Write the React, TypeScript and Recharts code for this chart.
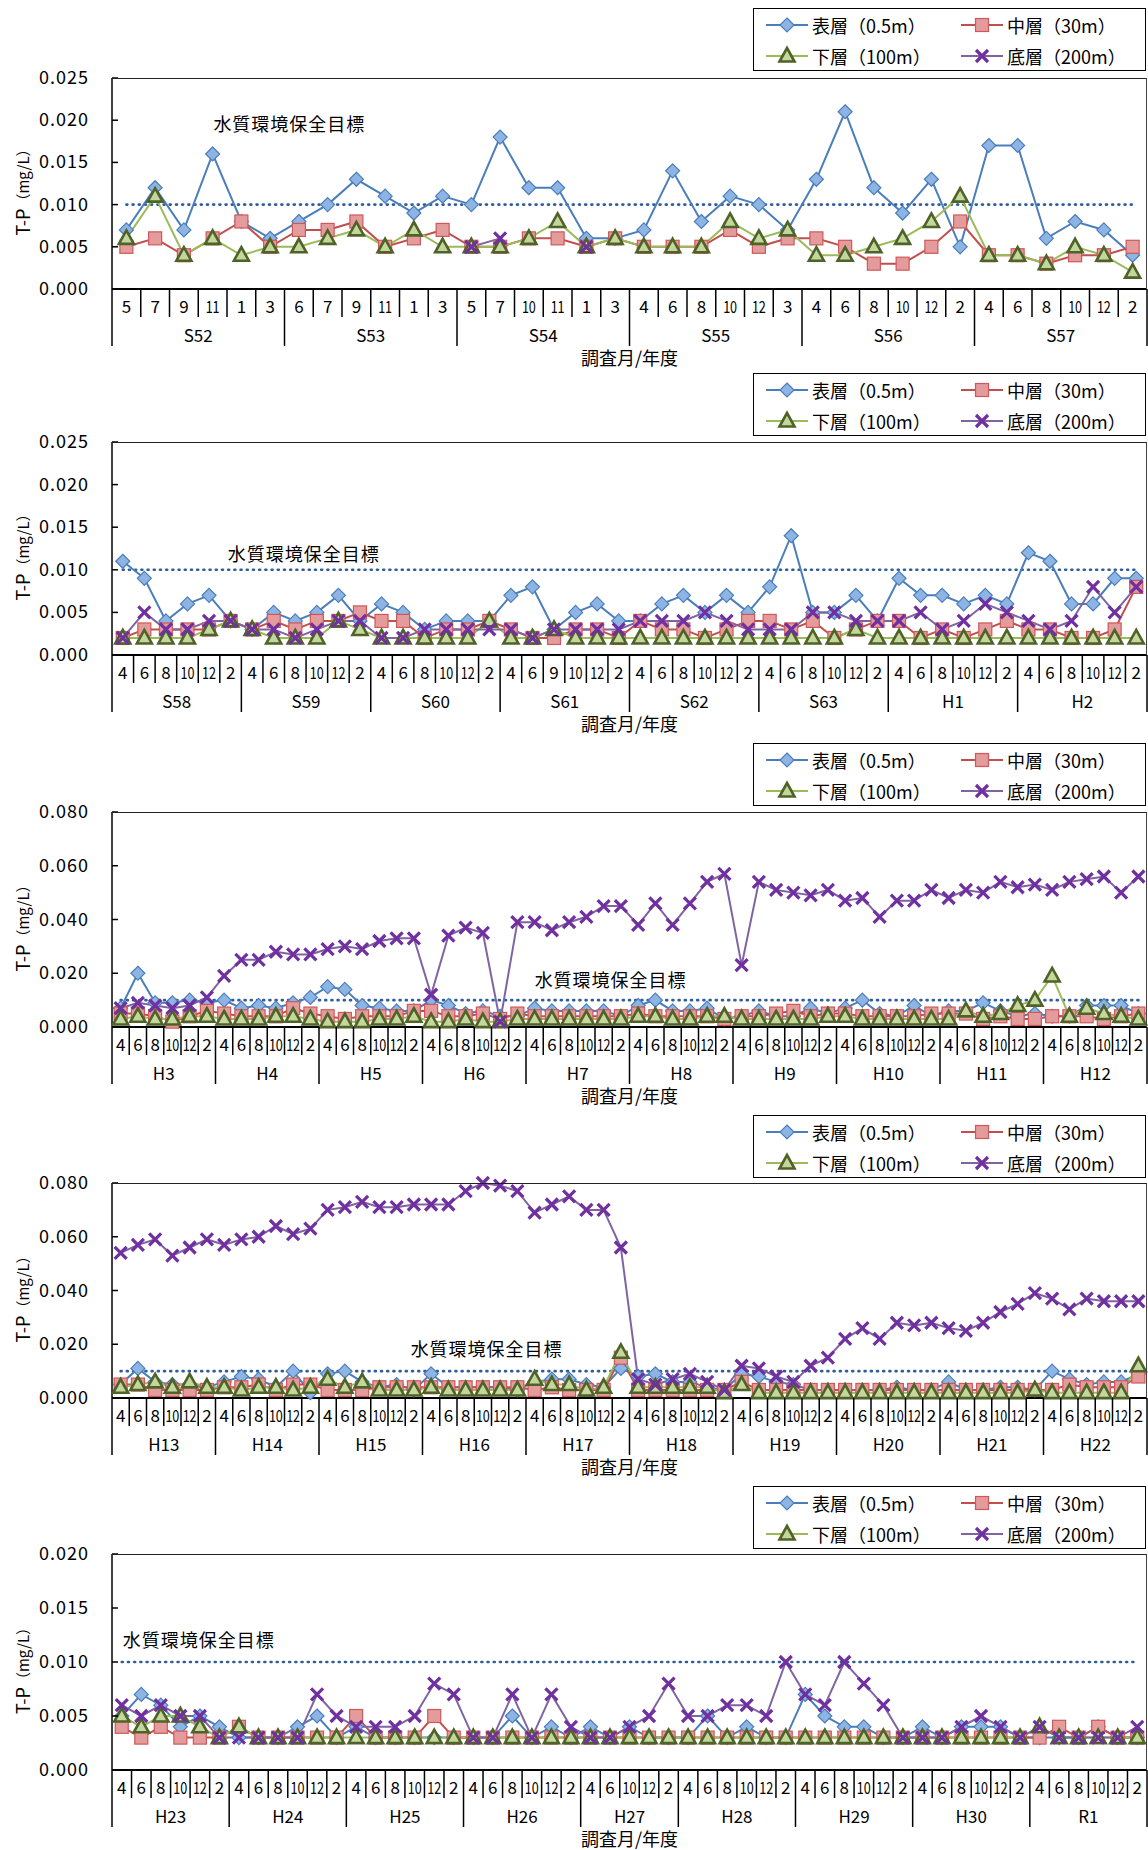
import { LineChart, Line, XAxis, YAxis, ReferenceLine } from "recharts";

const FONT = '"Noto Sans CJK JP", "Noto Sans", sans-serif';
const GOAL = 0.01;
const STD = [4, 6, 8, 10, 12, 2];

// S52 - S57
const p1Years = ["S52", "S53", "S54", "S55", "S56", "S57"];
const p1Months = [[5, 7, 9, 11, 1, 3], [6, 7, 9, 11, 1, 3], [5, 7, 10, 11, 1, 3], [4, 6, 8, 10, 12, 3], STD, STD];
const p1Surface = [0.007, 0.012, 0.007, 0.016, 0.008, 0.006, 0.008, 0.010, 0.013, 0.011, 0.009, 0.011, 0.010, 0.018, 0.012, 0.012, 0.006, 0.006, 0.007, 0.014, 0.008, 0.011, 0.010, 0.007, 0.013, 0.021, 0.012, 0.009, 0.013, 0.005, 0.017, 0.017, 0.006, 0.008, 0.007, 0.004];
const p1Middle = [0.005, 0.006, 0.004, 0.006, 0.008, 0.005, 0.007, 0.007, 0.008, 0.005, 0.006, 0.007, 0.005, 0.005, 0.006, 0.006, 0.005, 0.006, 0.005, 0.005, 0.005, 0.007, 0.005, 0.006, 0.006, 0.005, 0.003, 0.003, 0.005, 0.008, 0.004, 0.004, 0.003, 0.004, 0.004, 0.005];
const p1Lower = [0.006, 0.011, 0.004, 0.006, 0.004, 0.005, 0.005, 0.006, 0.007, 0.005, 0.007, 0.005, 0.005, 0.005, 0.006, 0.008, 0.005, 0.006, 0.005, 0.005, 0.005, 0.008, 0.006, 0.007, 0.004, 0.004, 0.005, 0.006, 0.008, 0.011, 0.004, 0.004, 0.003, 0.005, 0.004, 0.002];
const p1Bottom = [null, null, null, null, null, null, null, null, null, null, null, null, 0.005, 0.006, null, null, 0.005, null, null, null, null, null, null, null, null, null, null, null, null, null, null, null, null, null, null, null];
const p1Ticks = [0, 0.005, 0.01, 0.015, 0.02, 0.025];

// S58 - H2
const p2Years = ["S58", "S59", "S60", "S61", "S62", "S63", "H1", "H2"];
const p2Months = [STD, STD, STD, [4, 6, 9, 10, 12, 2], STD, STD, STD, STD];
const p2Surface = [0.011, 0.009, 0.004, 0.006, 0.007, 0.004, 0.003, 0.005, 0.004, 0.005, 0.007, 0.004, 0.006, 0.005, 0.003, 0.004, 0.004, 0.004, 0.007, 0.008, 0.003, 0.005, 0.006, 0.004, 0.004, 0.006, 0.007, 0.005, 0.007, 0.005, 0.008, 0.014, 0.005, 0.005, 0.007, 0.004, 0.009, 0.007, 0.007, 0.006, 0.007, 0.006, 0.012, 0.011, 0.006, 0.006, 0.009, 0.009];
const p2Middle = [0.002, 0.003, 0.003, 0.003, 0.003, 0.004, 0.003, 0.004, 0.003, 0.004, 0.004, 0.005, 0.004, 0.004, 0.002, 0.003, 0.003, 0.004, 0.003, 0.002, 0.002, 0.003, 0.003, 0.002, 0.004, 0.003, 0.003, 0.002, 0.003, 0.004, 0.004, 0.003, 0.004, 0.002, 0.003, 0.004, 0.004, 0.002, 0.003, 0.002, 0.003, 0.004, 0.003, 0.003, 0.002, 0.002, 0.003, 0.008];
const p2Lower = [0.002, 0.002, 0.002, 0.002, 0.003, 0.004, 0.003, 0.002, 0.002, 0.002, 0.004, 0.003, 0.002, 0.002, 0.002, 0.002, 0.002, 0.004, 0.002, 0.002, 0.003, 0.002, 0.002, 0.002, 0.002, 0.002, 0.002, 0.002, 0.002, 0.002, 0.002, 0.002, 0.002, 0.002, 0.003, 0.002, 0.002, 0.002, 0.002, 0.002, 0.002, 0.002, 0.002, 0.002, 0.002, 0.002, 0.002, 0.002];
const p2Bottom = [0.002, 0.005, 0.003, 0.003, 0.004, 0.004, 0.003, 0.003, 0.002, 0.003, 0.004, 0.004, 0.002, 0.002, 0.003, 0.003, 0.003, 0.003, 0.003, 0.002, 0.003, 0.003, 0.003, 0.003, 0.004, 0.004, 0.004, 0.005, 0.004, 0.003, 0.003, 0.003, 0.005, 0.005, 0.004, 0.004, 0.004, 0.005, 0.003, 0.004, 0.006, 0.005, 0.004, 0.003, 0.004, 0.008, 0.005, 0.008];
const p2Ticks = [0, 0.005, 0.01, 0.015, 0.02, 0.025];

// H3 - H12
const p3Years = ["H3", "H4", "H5", "H6", "H7", "H8", "H9", "H10", "H11", "H12"];
const p3Months = [STD, STD, STD, STD, STD, STD, STD, STD, STD, STD];
const p3Surface = [0.007, 0.020, 0.009, 0.009, 0.010, 0.009, 0.010, 0.007, 0.008, 0.007, 0.009, 0.011, 0.015, 0.014, 0.008, 0.007, 0.006, 0.006, 0.010, 0.008, 0.005, 0.006, 0.004, 0.004, 0.007, 0.006, 0.006, 0.006, 0.006, 0.004, 0.008, 0.010, 0.006, 0.006, 0.007, 0.003, 0.004, 0.006, 0.004, 0.004, 0.007, 0.005, 0.007, 0.010, 0.005, 0.004, 0.008, 0.004, 0.006, 0.006, 0.009, 0.006, 0.004, 0.005, 0.004, 0.004, 0.008, 0.008, 0.008, 0.005];
const p3Middle = [0.005, 0.005, 0.004, 0.002, 0.004, 0.006, 0.005, 0.004, 0.004, 0.004, 0.007, 0.005, 0.004, 0.003, 0.004, 0.004, 0.004, 0.006, 0.006, 0.004, 0.004, 0.005, 0.003, 0.005, 0.004, 0.004, 0.004, 0.004, 0.004, 0.004, 0.005, 0.004, 0.004, 0.004, 0.004, 0.003, 0.004, 0.004, 0.005, 0.006, 0.004, 0.005, 0.005, 0.004, 0.004, 0.004, 0.004, 0.005, 0.005, 0.005, 0.003, 0.004, 0.003, 0.003, 0.004, 0.004, 0.004, 0.003, 0.004, 0.005];
const p3Lower = [0.003, 0.004, 0.003, 0.003, 0.004, 0.004, 0.003, 0.003, 0.003, 0.004, 0.004, 0.003, 0.002, 0.002, 0.002, 0.003, 0.003, 0.004, 0.002, 0.002, 0.003, 0.002, 0.002, 0.003, 0.003, 0.003, 0.003, 0.003, 0.003, 0.003, 0.004, 0.004, 0.003, 0.003, 0.004, 0.004, 0.003, 0.003, 0.003, 0.003, 0.003, 0.004, 0.004, 0.003, 0.003, 0.003, 0.003, 0.003, 0.003, 0.006, 0.004, 0.005, 0.008, 0.010, 0.019, 0.004, 0.007, 0.005, 0.004, 0.003];
const p3Bottom = [0.007, 0.009, 0.008, 0.007, 0.008, 0.011, 0.019, 0.025, 0.025, 0.028, 0.027, 0.027, 0.029, 0.030, 0.029, 0.032, 0.033, 0.033, 0.012, 0.034, 0.037, 0.035, 0.002, 0.039, 0.039, 0.036, 0.039, 0.041, 0.045, 0.045, 0.038, 0.046, 0.038, 0.046, 0.054, 0.057, 0.023, 0.054, 0.051, 0.050, 0.049, 0.051, 0.047, 0.048, 0.041, 0.047, 0.047, 0.051, 0.048, 0.051, 0.050, 0.054, 0.052, 0.053, 0.051, 0.054, 0.055, 0.056, 0.050, 0.056];
const p3Ticks = [0, 0.02, 0.04, 0.06, 0.08];

// H13 - H22
const p4Years = ["H13", "H14", "H15", "H16", "H17", "H18", "H19", "H20", "H21", "H22"];
const p4Months = [STD, STD, STD, STD, STD, STD, STD, STD, STD, STD];
const p4Surface = [0.005, 0.011, 0.006, 0.005, 0.005, 0.004, 0.006, 0.008, 0.007, 0.004, 0.010, 0.002, 0.009, 0.010, 0.006, 0.004, 0.005, 0.003, 0.009, 0.004, 0.004, 0.004, 0.004, 0.003, 0.006, 0.007, 0.007, 0.005, 0.004, 0.011, 0.008, 0.009, 0.006, 0.006, 0.004, 0.003, 0.009, 0.008, 0.006, 0.005, 0.003, 0.003, 0.003, 0.003, 0.003, 0.004, 0.003, 0.003, 0.006, 0.003, 0.003, 0.004, 0.004, 0.003, 0.010, 0.007, 0.005, 0.006, 0.006, 0.009];
const p4Middle = [0.005, 0.005, 0.003, 0.003, 0.003, 0.003, 0.004, 0.004, 0.005, 0.003, 0.005, 0.005, 0.003, 0.003, 0.003, 0.004, 0.004, 0.004, 0.004, 0.004, 0.004, 0.004, 0.004, 0.004, 0.003, 0.004, 0.003, 0.003, 0.003, 0.015, 0.003, 0.003, 0.003, 0.003, 0.003, 0.003, 0.006, 0.003, 0.003, 0.003, 0.003, 0.003, 0.003, 0.003, 0.003, 0.003, 0.003, 0.003, 0.003, 0.003, 0.003, 0.003, 0.003, 0.003, 0.003, 0.005, 0.004, 0.004, 0.004, 0.008];
const p4Lower = [0.004, 0.005, 0.006, 0.004, 0.006, 0.004, 0.004, 0.003, 0.004, 0.004, 0.003, 0.004, 0.007, 0.004, 0.006, 0.003, 0.003, 0.003, 0.004, 0.003, 0.003, 0.003, 0.003, 0.003, 0.007, 0.005, 0.005, 0.003, 0.004, 0.017, 0.004, 0.004, 0.004, 0.004, 0.004, 0.002, 0.005, 0.002, 0.002, 0.002, 0.002, 0.002, 0.002, 0.002, 0.002, 0.002, 0.002, 0.002, 0.002, 0.002, 0.002, 0.002, 0.002, 0.003, 0.002, 0.002, 0.002, 0.002, 0.002, 0.012];
const p4Bottom = [0.054, 0.057, 0.059, 0.053, 0.056, 0.059, 0.057, 0.059, 0.060, 0.064, 0.061, 0.063, 0.070, 0.071, 0.073, 0.071, 0.071, 0.072, 0.072, 0.072, 0.077, 0.080, 0.079, 0.077, 0.069, 0.072, 0.075, 0.070, 0.070, 0.056, 0.007, 0.005, 0.007, 0.009, 0.006, 0.003, 0.012, 0.011, 0.008, 0.006, 0.012, 0.015, 0.022, 0.026, 0.022, 0.028, 0.027, 0.028, 0.026, 0.025, 0.028, 0.032, 0.035, 0.039, 0.037, 0.033, 0.037, 0.036, 0.036, 0.036];
const p4Ticks = [0, 0.02, 0.04, 0.06, 0.08];

// H23 - R1
const p5Years = ["H23", "H24", "H25", "H26", "H27", "H28", "H29", "H30", "R1"];
const p5Months = [STD, STD, STD, STD, [4, 6, 10, 12, 2], STD, STD, STD, STD];
const p5Surface = [0.005, 0.007, 0.006, 0.004, 0.005, 0.004, 0.003, 0.003, 0.003, 0.004, 0.005, 0.003, 0.004, 0.003, 0.003, 0.003, 0.003, 0.003, 0.003, 0.003, 0.005, 0.003, 0.004, 0.003, 0.004, 0.003, 0.004, 0.003, 0.003, 0.003, 0.005, 0.003, 0.004, 0.003, 0.003, 0.007, 0.005, 0.004, 0.004, 0.003, 0.003, 0.004, 0.003, 0.004, 0.004, 0.004, 0.003, 0.003, 0.003, 0.003, 0.004, 0.003, 0.003];
const p5Middle = [0.004, 0.003, 0.004, 0.003, 0.003, 0.003, 0.004, 0.003, 0.003, 0.003, 0.003, 0.003, 0.005, 0.003, 0.003, 0.003, 0.005, 0.003, 0.003, 0.003, 0.003, 0.003, 0.003, 0.003, 0.003, 0.003, 0.003, 0.003, 0.003, 0.003, 0.003, 0.003, 0.003, 0.003, 0.003, 0.003, 0.003, 0.003, 0.003, 0.003, 0.003, 0.003, 0.003, 0.003, 0.003, 0.003, 0.003, 0.003, 0.004, 0.003, 0.004, 0.003, 0.003, 0.003];
const p5Lower = [0.005, 0.004, 0.005, 0.005, 0.004, 0.003, 0.004, 0.003, 0.003, 0.003, 0.003, 0.003, 0.003, 0.003, 0.003, 0.003, 0.003, 0.003, 0.003, 0.003, 0.003, 0.003, 0.003, 0.003, 0.003, 0.003, 0.003, 0.003, 0.003, 0.003, 0.003, 0.003, 0.003, 0.003, 0.003, 0.003, 0.003, 0.003, 0.003, 0.003, 0.003, 0.003, 0.003, 0.003, 0.003, 0.003, 0.003, 0.004, 0.003, 0.003, 0.003, 0.003, 0.003, 0.003, 0.003, 0.003, 0.003, 0.003, 0.003];
const p5Bottom = [0.006, 0.005, 0.006, 0.005, 0.005, 0.003, 0.003, 0.003, 0.003, 0.003, 0.007, 0.005, 0.004, 0.004, 0.004, 0.005, 0.008, 0.007, 0.003, 0.003, 0.007, 0.003, 0.007, 0.004, 0.003, 0.003, 0.004, 0.005, 0.008, 0.005, 0.005, 0.006, 0.006, 0.005, 0.010, 0.007, 0.006, 0.010, 0.008, 0.006, 0.003, 0.003, 0.003, 0.004, 0.005, 0.004, 0.003, 0.004, 0.003, 0.003, 0.003, 0.003, 0.004];
const p5Ticks = [0, 0.005, 0.01, 0.015, 0.02];

const SERIES = [
  { key: "surface", name: "表層（0.5m）", color: "#4A7EBB", marker: "diamond" },
  { key: "middle", name: "中層（30m）", color: "#C0504D", marker: "square" },
  { key: "lower", name: "下層（100m）", color: "#9BBB59", marker: "triangle" },
  { key: "bottom", name: "底層（200m）", color: "#8064A2", marker: "cross" },
];

const PLOT_LEFT = 112;
const PLOT_W = 1035;
const TOP_GAP = 70;
const AXIS_H = 85;

function marker(kind: string, cx: number, cy: number, k: string) {
  if (kind === "diamond")
    return <path key={k} d={`M${cx},${cy - 7}L${cx + 7},${cy}L${cx},${cy + 7}L${cx - 7},${cy}Z`} fill="#8DB4E2" stroke="#4A7EBB" strokeWidth={1.2} />;
  if (kind === "square")
    return <rect key={k} x={cx - 6.5} y={cy - 6.5} width={13} height={13} fill="#E39C9B" stroke="#D0585A" strokeWidth={1.2} />;
  if (kind === "triangle")
    return <path key={k} d={`M${cx},${cy - 8}L${cx + 7.5},${cy + 5.5}L${cx - 7.5},${cy + 5.5}Z`} fill="#C3D69B" stroke="#4F6228" strokeWidth={2.6} />;
  return <path key={k} d={`M${cx - 6},${cy - 6}L${cx + 6},${cy + 6}M${cx + 6},${cy - 6}L${cx - 6},${cy + 6}`} stroke="#7030A0" strokeWidth={3.2} />;
}

const dotFor = (kind: string) => (p: any) => {
  if (p.cx == null || p.cy == null || p.value == null) return <g key={`n${kind}${p.index}`} />;
  return marker(kind, p.cx, p.cy, `${kind}${p.index}`);
};

function buildRows(years: string[], months: number[][], s: any[], m: any[], l: any[], b: any[]) {
  const rows: any[] = [];
  let i = 0;
  years.forEach((y, yi) => {
    months[yi].forEach((mo, j) => {
      rows.push({ key: `${y}-${j}`, year: y, month: mo, first: j === 0, groupLen: months[yi].length, surface: s[i], middle: m[i], lower: l[i], bottom: b[i] });
      i++;
    });
  });
  return rows;
}

function makeXTick(rows: any[], axisY: number) {
  const bw = PLOT_W / rows.length;
  return (props: any) => {
    const { x, index } = props;
    const r = rows[index];
    if (!r) return <g />;
    const left = x - bw / 2;
    const label = String(r.month);
    const narrow = label.length > 1 ? { textLength: 14, lengthAdjust: "spacingAndGlyphs" } : {};
    return (
      <g>
        <line x1={left} y1={axisY} x2={left} y2={axisY + (r.first ? 57 : 28)} stroke="#000" strokeWidth={1.5} />
        {index === rows.length - 1 && (
          <line x1={x + bw / 2} y1={axisY} x2={x + bw / 2} y2={axisY + 57} stroke="#000" strokeWidth={1.5} />
        )}
        <text x={x} y={axisY + 24} textAnchor="middle" fontSize={17} fill="#000" {...narrow}>
          {label}
        </text>
        {r.first && (
          <text x={left + (r.groupLen * bw) / 2} y={axisY + 53} textAnchor="middle" fontSize={17} fill="#000">
            {r.year}
          </text>
        )}
      </g>
    );
  };
}

const YTick = (props: any) => {
  const { y, payload } = props;
  return (
    <g>
      <line x1={PLOT_LEFT} x2={PLOT_LEFT + 6} y1={y} y2={y} stroke="#000" strokeWidth={1.5} />
      <text x={88} y={y + 6} textAnchor="end" fontSize={18} fill="#000" textLength={49} lengthAdjust="spacing">
        {Number(payload.value).toFixed(3)}
      </text>
    </g>
  );
};

const goalLabel = (dx: number, dy: number) => (props: any) => {
  const vb = props.viewBox || { x: 0, y: 0 };
  return (
    <text x={vb.x + dx} y={vb.y - dy} fontSize={18} letterSpacing={1} fill="#000">
      水質環境保全目標
    </text>
  );
};

function Legend({ top }: { top: number }) {
  return (
    <div style={{ position: "absolute", left: 753, top, width: 393, height: 63, border: "1.5px solid #000", background: "#fff", boxSizing: "border-box" }}>
      {SERIES.map((s, i) => {
        const col = i % 2;
        const row = Math.floor(i / 2);
        return (
          <div key={s.key} style={{ position: "absolute", left: col ? 207 : 12, top: row ? 36 : 5, height: 22, display: "flex", alignItems: "center" }}>
            <svg width={42} height={22} style={{ display: "block" }}>
              <line x1={0} y1={11} x2={42} y2={11} stroke={s.color} strokeWidth={2} />
              {marker(s.marker, 21, 11, "m")}
            </svg>
            <span style={{ marginLeft: 4, fontSize: 18, lineHeight: "22px", color: "#000", whiteSpace: "nowrap" }}>{s.name}</span>
          </div>
        );
      })}
    </div>
  );
}

type PanelProps = {
  rows: any[];
  ticks: number[];
  plotTop: number;
  plotH: number;
  legendDy: number;
  goalDx: number;
  goalDy: number;
};

function Panel({ rows, ticks, plotTop, plotH, legendDy, goalDx, goalDy }: PanelProps) {
  const axisY = TOP_GAP + plotH;
  const yMax = ticks[ticks.length - 1];
  const h = TOP_GAP + plotH + AXIS_H;
  const half = PLOT_W / rows.length / 2;
  return (
    <div style={{ position: "absolute", left: 0, top: plotTop - TOP_GAP, width: 1148, height: h }}>
      <Legend top={legendDy} />
      <LineChart width={1148} height={h} data={rows} margin={{ top: TOP_GAP, right: 1, bottom: 0, left: 0 }} style={{ fontFamily: FONT }}>
        <XAxis
          dataKey="key"
          interval={0}
          height={AXIS_H}
          padding={{ left: half, right: half }}
          tickLine={false}
          axisLine={{ stroke: "#000", strokeWidth: 2 }}
          tick={makeXTick(rows, axisY)}
        />
        <YAxis
          domain={[0, yMax]}
          ticks={ticks}
          width={PLOT_LEFT}
          tickLine={false}
          axisLine={{ stroke: "#000", strokeWidth: 1.5 }}
          tick={<YTick />}
          label={() => (
            <text transform={`translate(22, ${TOP_GAP + plotH / 2 + 5}) rotate(-90)`} textAnchor="middle" dominantBaseline="central" fill="#000">
              <tspan fontSize={18}>T-P</tspan>
              <tspan fontSize={15}>（mg/L）</tspan>
            </text>
          )}
        />
        <ReferenceLine
          segment={[{ x: rows[0].key, y: GOAL }, { x: rows[rows.length - 1].key, y: GOAL }]}
          stroke="#2F5C9A"
          strokeWidth={2.6}
          strokeDasharray="1 5.2"
          strokeLinecap="round"
          label={goalLabel(goalDx, goalDy)}
        />
        {SERIES.map((s) => (
          <Line
            key={s.key}
            dataKey={s.key}
            name={s.name}
            type="linear"
            stroke={s.color}
            strokeWidth={2}
            dot={dotFor(s.marker)}
            activeDot={false}
            isAnimationActive={false}
          />
        ))}
      </LineChart>
      {/* top and right edges of the plot frame */}
      <div
        style={{
          position: "absolute",
          left: PLOT_LEFT,
          top: TOP_GAP,
          width: PLOT_W,
          height: plotH,
          borderTop: "1.5px solid #222",
          borderRight: "1.5px solid #444",
          boxSizing: "border-box",
          pointerEvents: "none",
        }}
      />
      <div style={{ position: "absolute", left: PLOT_LEFT, width: PLOT_W, top: axisY + 58, textAlign: "center", fontSize: 18, lineHeight: "20px", color: "#000" }}>
        調査月/年度
      </div>
    </div>
  );
}

export default function App() {
  const r1 = buildRows(p1Years, p1Months, p1Surface, p1Middle, p1Lower, p1Bottom);
  const r2 = buildRows(p2Years, p2Months, p2Surface, p2Middle, p2Lower, p2Bottom);
  const r3 = buildRows(p3Years, p3Months, p3Surface, p3Middle, p3Lower, p3Bottom);
  const r4 = buildRows(p4Years, p4Months, p4Surface, p4Middle, p4Lower, p4Bottom);
  const r5 = buildRows(p5Years, p5Months, p5Surface, p5Middle, p5Lower, p5Bottom);
  return (
    <div style={{ position: "absolute", left: 0, top: 0, width: 1148, height: 1850, background: "#fff", fontFamily: FONT, overflow: "hidden" }}>
      <Panel rows={r1} ticks={p1Ticks} plotTop={78} plotH={211} legendDy={0} goalDx={87} goalDy={74} />
      <Panel rows={r2} ticks={p2Ticks} plotTop={442} plotH={213} legendDy={1} goalDx={105} goalDy={9} />
      <Panel rows={r3} ticks={p3Ticks} plotTop={812} plotH={215} legendDy={1} goalDx={414} goalDy={13} />
      <Panel rows={r4} ticks={p4Ticks} plotTop={1183} plotH={215} legendDy={2} goalDx={290} goalDy={15} />
      <Panel rows={r5} ticks={p5Ticks} plotTop={1554} plotH={216} legendDy={2} goalDx={1} goalDy={15} />
    </div>
  );
}
